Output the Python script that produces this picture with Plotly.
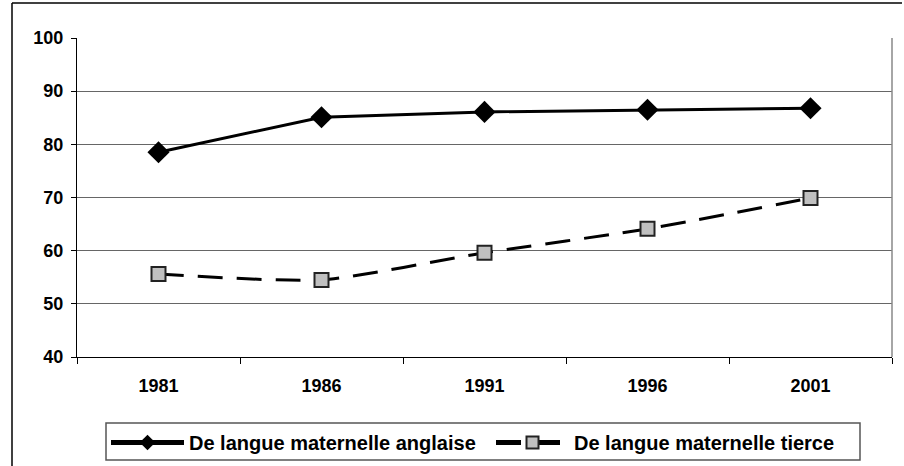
import plotly.graph_objects as go

years = ["1981", "1986", "1991", "1996", "2001"]
anglaise = [78.5, 85.1, 86.1, 86.5, 86.8]
tierce = [55.6, 54.5, 59.6, 64.1, 69.9]
y_ticks = [40, 50, 60, 70, 80, 90, 100]

font_main = "Liberation Sans, Arial, sans-serif"

fig = go.Figure()

fig.add_trace(go.Scatter(
    x=years, y=anglaise, name="De langue maternelle anglaise",
    mode="lines+markers",
    line=dict(color="black", width=3),
    marker=dict(symbol="diamond", size=17, color="black"),
))

fig.add_trace(go.Scatter(
    x=years, y=tierce, name="De langue maternelle tierce",
    mode="lines+markers",
    line=dict(color="black", width=3, dash="25px,14px", shape="spline", smoothing=0.6),
    marker=dict(symbol="square", size=14, color="#c0c0c0", line=dict(color="#222", width=2)),
))

fig.update_layout(
    width=904, height=466,
    margin=dict(l=77, r=12, t=38, b=109, autoexpand=False),
    paper_bgcolor="white", plot_bgcolor="white",
    font=dict(family=font_main, size=18, color="black"),
    showlegend=True,
    legend=dict(
        orientation="h", x=(106 - 77) / 815, y=(357 - 423) / 319, xanchor="left", yanchor="top",
        borderwidth=0, bgcolor="rgba(0,0,0,0)",
        font=dict(family=font_main, size=20, color="black", weight="bold"),
        itemwidth=73, tracegroupgap=0, itemsizing="constant",
        entrywidth=297, entrywidthmode="pixels",
    ),
)

fig.update_xaxes(
    type="category", tickson="boundaries", automargin=False,
    showline=True, linecolor="black", linewidth=1,
    ticks="outside", ticklen=6, tickcolor="black",
    showgrid=False, range=[-0.5, 4.5],
    tickfont=dict(family=font_main, size=18, weight="bold"),
    ticklabelstandoff=12,
)

fig.update_yaxes(
    range=[40, 100], tickvals=y_ticks, automargin=False,
    showline=True, linecolor="black", linewidth=1,
    ticks="outside", ticklen=5, tickcolor="black",
    showgrid=True, gridcolor="#666", gridwidth=1,
    zeroline=False,
    tickfont=dict(family=font_main, size=18, weight="bold"),
    ticklabelstandoff=4,
)

# right border of the plot area
fig.add_shape(type="line", xref="paper", yref="paper", x0=1, x1=1, y0=0, y1=1,
              line=dict(color="#888", width=1.5))
# legend frame
fig.add_shape(type="rect", xref="paper", yref="paper",
              x0=(106 - 77) / 815, x1=(860 - 77) / 815,
              y0=(357 - 460) / 319, y1=(357 - 423) / 319,
              line=dict(color="#555", width=1.5))
# outer chart frame (top and left edges, the rest is cut off)
fig.add_shape(type="line", xref="paper", yref="paper",
              x0=(12 - 77) / 815, x1=(902 - 77) / 815,
              y0=(357 - 3) / 319, y1=(357 - 3) / 319,
              line=dict(color="black", width=1.5))
fig.add_shape(type="line", xref="paper", yref="paper",
              x0=(12 - 77) / 815, x1=(12 - 77) / 815,
              y0=(357 - 3) / 319, y1=(357 - 470) / 319,
              line=dict(color="black", width=1.5))

fig.write_html("out.html", config={"displayModeBar": False},
               post_script="document.body.style.margin='0';")
